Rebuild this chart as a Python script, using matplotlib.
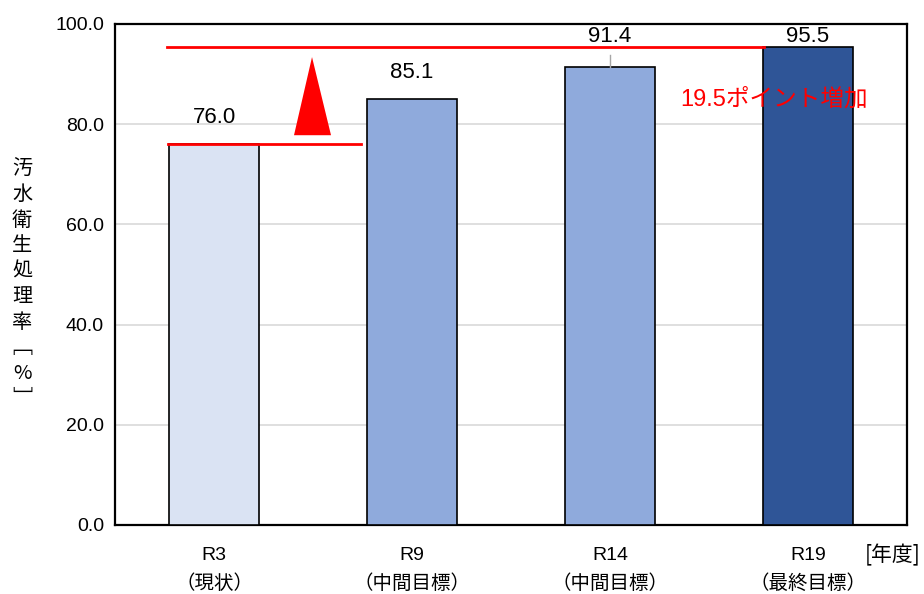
import matplotlib
matplotlib.use("Agg")
import matplotlib.pyplot as plt
from matplotlib.patches import Polygon

plt.rcParams['font.family'] = ['Liberation Sans', 'Noto Sans CJK JP', 'DejaVu Sans']

# datos
categorias = ["R3\n（現状）", "R9\n（中間目標）", "R14\n（中間目標）", "R19\n（最終目標）"]
valores = [76.0, 85.1, 91.4, 95.5]
colores = ["#dae3f3", "#8faadc", "#8faadc", "#2f5597"]
etiquetas = ["76.0", "85.1", "91.4", "95.5"]
desplaz = [5.4, 5.3, 6.2, 2.1]   # altura de cada etiqueta sobre la barra
yticks = [0, 20, 40, 60, 80, 100]
ylabel_chars = ["汚", "水", "衛", "生", "処", "理", "率", "﹇", "%", "﹈"]
texto_aumento = "19.5ポイント増加"

fig = plt.figure(figsize=(9.24, 5.94), dpi=100)
ax = fig.add_axes([0.1245, 0.1162, 0.857, 0.8434])

x = list(range(len(valores)))
ax.bar(x, valores, width=0.455, color=colores, edgecolor="black", linewidth=1.2, zorder=3)
ax.set_xlim(-0.5, 3.5)
ax.set_ylim(0, 100)
ax.set_yticks(yticks)
ax.set_yticklabels([f"{v:.1f}" for v in yticks], fontsize=14)
ax.yaxis.grid(True, color="#d9d9d9", linewidth=1.2, zorder=0)
ax.tick_params(axis="y", length=0, pad=8)
ax.tick_params(axis="x", length=0, pad=16)
ax.set_xticks(x)
ax.set_xticklabels(categorias, fontsize=14, linespacing=1.7)
for s in ax.spines.values():
    s.set_linewidth(1.6)

# etiquetas de valor
for i, v in enumerate(valores):
    ax.text(i, v + desplaz[i], etiquetas[i], ha="center", va="center", fontsize=16, zorder=5)
# linea guia de 91.4
ax.plot([2, 2], [valores[2] + 0.1, valores[2] + 2.4], color="#a6a6a6", linewidth=1, zorder=4)

# lineas rojas y flecha
ax.plot([-0.24, 2.78], [valores[3], valores[3]], color="red", linewidth=2, zorder=4)
ax.plot([-0.23, 0.74], [valores[0], valores[0]], color="red", linewidth=2, zorder=4)
tri = Polygon([[0.404, 77.8], [0.591, 77.8], [0.495, 93.4]], closed=True,
              facecolor="red", edgecolor="none", zorder=4)
ax.add_patch(tri)
ax.text(2.83, 84.9, texto_aumento, color="red", ha="center", va="center", fontsize=17, zorder=5)

# titulo eje y en vertical
fig.text(0.024, 0.522, "\n".join(ylabel_chars), ha="center", va="center",
         fontsize=14.5, linespacing=1.28, family=['Noto Sans CJK JP', 'DejaVu Sans'])
fig.text(0.936, 0.066, "[年度]", ha="left", va="center", fontsize=15,
         family=['Noto Sans CJK JP', 'DejaVu Sans'])

fig.savefig("out.png", dpi=100)
